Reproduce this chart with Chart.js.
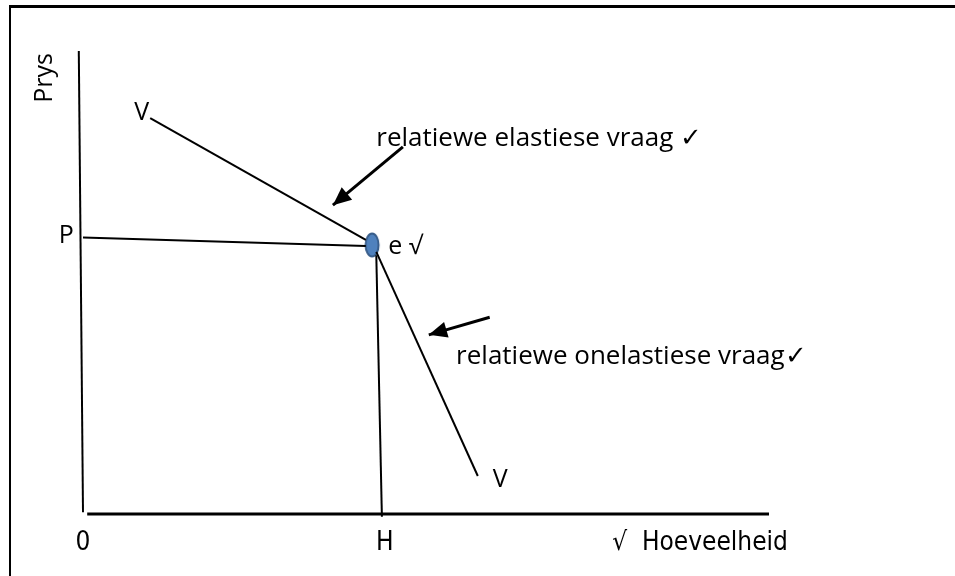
<!DOCTYPE html>
<html>
<head>
<meta charset="utf-8">
<script src="https://cdn.jsdelivr.net/npm/chart.js@4.4.1/dist/chart.umd.min.js"></script>
<style>
  html, body { margin: 0; padding: 0; background: #fff; overflow: hidden; }
  #wrap { position: relative; width: 955px; height: 576px; }
  #frame { position: absolute; left: 9px; top: 5px; width: 1000px; height: 1000px;
           border-left: 2px solid #000; border-top: 3px solid #000; }
  canvas { position: absolute; left: 0; top: 0; }
</style>
</head>
<body>
<div id="wrap">
  <div id="frame"></div>
  <canvas id="chart" width="955" height="576"></canvas>
</div>
<script>
// hand drawn demand diagram, values in chart units (hoeveelheid, prys)
const yAxisLine = [{x: -0.06, y: 10.0}, {x: 0.0, y: 0.04}];
const xAxisLine = [{x: 0.06, y: 0.0}, {x: 9.8, y: 0.0}];
const demandUpper = [{x: 0.96, y: 8.55}, {x: 4.04, y: 5.92}];
const demandLower = [{x: 4.19, y: 5.66}, {x: 5.64, y: 0.82}];
const priceLine = [{x: 0.0, y: 5.97}, {x: 4.04, y: 5.79}];
const quantityLine = [{x: 4.19, y: 5.59}, {x: 4.27, y: -0.06}];
const equilibrium = [{x: 4.13, y: 5.81}];
const arrowElastic = [{x: 4.57, y: 7.93}, {x: 3.57, y: 6.67}];
const arrowInelastic = [{x: 5.81, y: 4.25}, {x: 4.94, y: 3.87}];

// labels: text, position, alignment
const labelTexts = ['V', 'V', 'P', 'e \u221A', 'relatiewe elastiese vraag \u2713',
  'relatiewe onelastiese vraag\u2713', '0', 'H', '\u221A  Hoeveelheid', 'Prys'];
const labelX = [0.84, 5.96, -0.24, 4.36, 4.19, 5.33, 0.0, 4.31, 10.07, -0.54];
const labelY = [8.66, 0.73, 6.0, 5.77, 8.10, 3.39, -0.63, -0.63, -0.63, 9.42];
const labelAlign = ['center', 'center', 'center', 'left', 'left', 'left', 'center', 'center', 'right', 'center'];

const bodyFont = '26px "Open Sans", sans-serif';
const bigFont = '25px "Open Sans", sans-serif';
const axisFont = '26px "DejaVu Sans Condensed", "DejaVu Sans", sans-serif';
const labelFonts = [bigFont, bigFont, bigFont, bigFont, bodyFont, bodyFont, axisFont, axisFont, axisFont, bigFont];

// ellipse marker for the point e
const dot = document.createElement('canvas');
dot.width = 18; dot.height = 28;
const dctx = dot.getContext('2d');
dctx.beginPath();
dctx.ellipse(9, 14, 6.5, 11.5, 0, 0, Math.PI * 2);
dctx.fillStyle = '#4f81bd';
dctx.fill();
dctx.lineWidth = 2;
dctx.strokeStyle = '#385d8a';
dctx.stroke();

function lineSet(data, width) {
  return {
    type: 'line', data: data, borderColor: '#000', borderWidth: width,
    pointRadius: 0, showLine: true, fill: false, tension: 0
  };
}

const arrowHeads = {
  id: 'arrowHeads',
  afterDatasetsDraw(chart) {
    const ctx = chart.ctx;
    const xs = chart.scales.x, ys = chart.scales.y;
    [arrowElastic, arrowInelastic].forEach(a => {
      const x0 = xs.getPixelForValue(a[0].x), y0 = ys.getPixelForValue(a[0].y);
      const x1 = xs.getPixelForValue(a[1].x), y1 = ys.getPixelForValue(a[1].y);
      const ang = Math.atan2(y1 - y0, x1 - x0);
      const len = 20, half = 0.42;
      ctx.save();
      ctx.fillStyle = '#000';
      ctx.beginPath();
      ctx.moveTo(x1, y1);
      ctx.lineTo(x1 - len * Math.cos(ang - half), y1 - len * Math.sin(ang - half));
      ctx.lineTo(x1 - len * Math.cos(ang + half), y1 - len * Math.sin(ang + half));
      ctx.closePath();
      ctx.fill();
      ctx.restore();
    });
  }
};

const textLabels = {
  id: 'textLabels',
  afterDraw(chart) {
    const ctx = chart.ctx;
    const xs = chart.scales.x, ys = chart.scales.y;
    ctx.save();
    ctx.fillStyle = '#000';
    ctx.textBaseline = 'middle';
    labelTexts.forEach((t, i) => {
      const px = xs.getPixelForValue(labelX[i]);
      const py = ys.getPixelForValue(labelY[i]);
      ctx.font = labelFonts[i];
      ctx.textAlign = labelAlign[i];
      if (t === 'Prys') {
        ctx.save();
        ctx.translate(px, py);
        ctx.rotate(-Math.PI / 2);
        ctx.fillText(t, 0, 0);
        ctx.restore();
      } else {
        ctx.fillText(t, px, py);
      }
    });
    ctx.restore();
  }
};

new Chart(document.getElementById('chart'), {
  type: 'scatter',
  data: {
    datasets: [
      lineSet(yAxisLine, 2),
      lineSet(xAxisLine, 3),
      lineSet(demandUpper, 2),
      lineSet(demandLower, 2),
      lineSet(priceLine, 2),
      lineSet(quantityLine, 2),
      lineSet(arrowElastic, 3),
      lineSet(arrowInelastic, 3),
      {
        type: 'scatter', data: equilibrium, pointStyle: dot,
        pointRadius: 12, pointHoverRadius: 12
      }
    ]
  },
  options: {
    responsive: false,
    animation: false,
    events: [],
    layout: { padding: 0, autoPadding: false },
    plugins: { legend: { display: false }, tooltip: { enabled: false } },
    scales: {
      x: { type: 'linear', display: false, min: -83 / 70, max: (955 - 83) / 70 },
      y: { type: 'linear', display: false, min: (514 - 576) / 46.3, max: 514 / 46.3 }
    }
  },
  plugins: [arrowHeads, textLabels]
});
</script>
</body>
</html>
